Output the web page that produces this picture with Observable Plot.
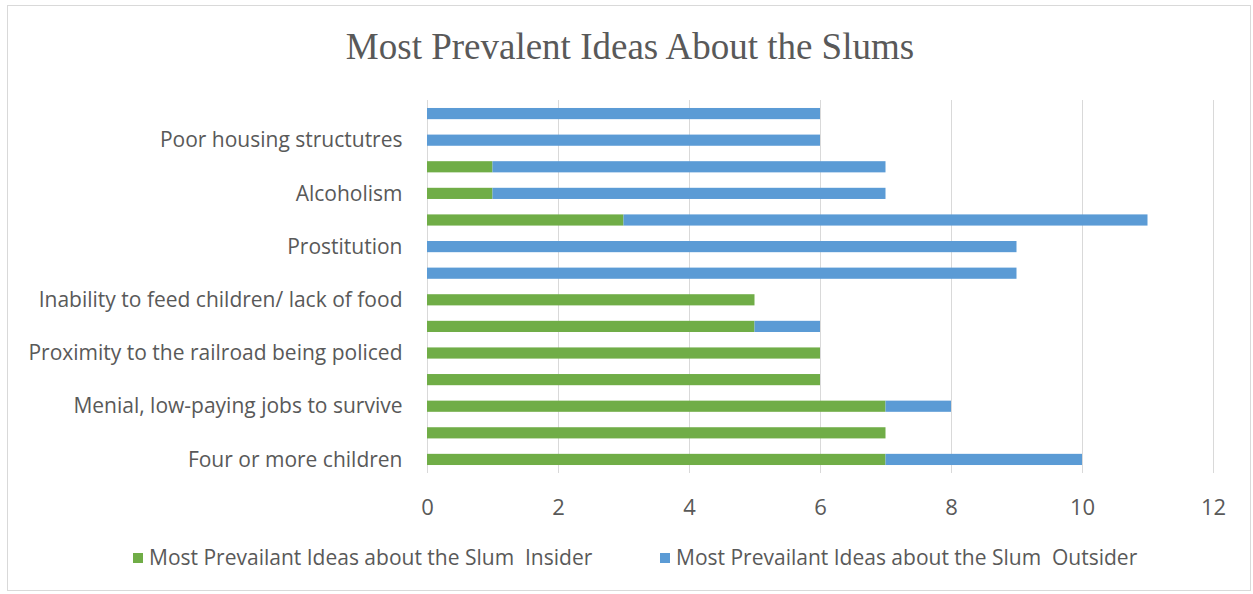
<!DOCTYPE html>
<html>
<head>
<meta charset="utf-8">
<script src="https://cdn.jsdelivr.net/npm/d3@7"></script>
<script src="https://cdn.jsdelivr.net/npm/@observablehq/plot@0.6"></script>
<style>
  html, body { margin: 0; padding: 0; background: #fff; }
  #frame { position: absolute; left: 7px; top: 5px; width: 1244px; height: 586px; border: 1px solid #d9d9d9; box-sizing: border-box; }
  #title { position: absolute; left: 0; width: 1260px; top: 25px; text-align: center; font-family: "Liberation Serif", "Times New Roman", serif; font-size: 37px; color: #595959; }
  #chart { position: absolute; left: 0; top: 90px; }
  .leg { position: absolute; top: 543px; font-family: "Open Sans", sans-serif; font-size: 21px; color: #595959; white-space: pre; }
  .sw { position: absolute; width: 10px; height: 10px; top: 553px; }
</style>
</head>
<body>
<div id="frame"></div>
<div id="title">Most Prevalent Ideas About the Slums</div>
<div id="chart"></div>
<div class="sw" style="left:133px;background:#70AD47"></div>
<div class="leg" style="left:149px">Most Prevailant Ideas about the Slum  Insider</div>
<div class="sw" style="left:660px;background:#5B9BD5"></div>
<div class="leg" style="left:676px">Most Prevailant Ideas about the Slum  Outsider</div>
<script>
// Categories top-to-bottom; empty strings are categories whose labels are skipped on the axis
const labels = ["", "Poor housing structutres", "", "Alcoholism", "", "Prostitution", "", "Inability to feed children/ lack of food", "", "Proximity to the railroad being policed", "", "Menial, low-paying jobs to survive", "", "Four or more children"];
const insider = [0, 0, 1, 1, 3, 0, 0, 5, 5, 6, 6, 7, 7, 7];
const outsider = [6, 6, 6, 6, 8, 9, 9, 0, 1, 0, 0, 1, 0, 3];
const xTicks = [0, 2, 4, 6, 8, 10, 12];
const seriesNames = ["Most Prevailant Ideas about the Slum  Insider", "Most Prevailant Ideas about the Slum  Outsider"];
const seriesColors = ["#70AD47", "#5B9BD5"];

const rows = [];
labels.forEach((l, i) => {
  rows.push({idx: i, series: seriesNames[0], value: insider[i]});
  rows.push({idx: i, series: seriesNames[1], value: outsider[i]});
});

const chart = Plot.plot({
  width: 1253,
  height: 440,
  marginLeft: 427,
  marginRight: 40,
  marginTop: 10,
  marginBottom: 57,
  style: {fontFamily: "Open Sans, sans-serif", color: "#595959", background: "transparent"},
  x: {domain: [0, 12], ticks: xTicks, label: null},
  y: {domain: d3.range(labels.length), paddingInner: 0.58, paddingOuter: 0.3, round: false, label: null},
  color: {domain: seriesNames, range: seriesColors},
  marks: [
    Plot.ruleX(xTicks, {stroke: "#d9d9d9", strokeWidth: 1}),
    Plot.barX(rows, Plot.stackX({y: "idx", x: "value", fill: "series", order: seriesNames})),
    Plot.axisX({ticks: xTicks, tickSize: 0, tickPadding: 26, fontSize: 22, fill: "#595959"}),
    Plot.axisY({tickSize: 0, tickPadding: 25, fontSize: 21, tickFormat: i => labels[i], fill: "#595959"})
  ]
});
document.getElementById("chart").appendChild(chart);
</script>
</body>
</html>
